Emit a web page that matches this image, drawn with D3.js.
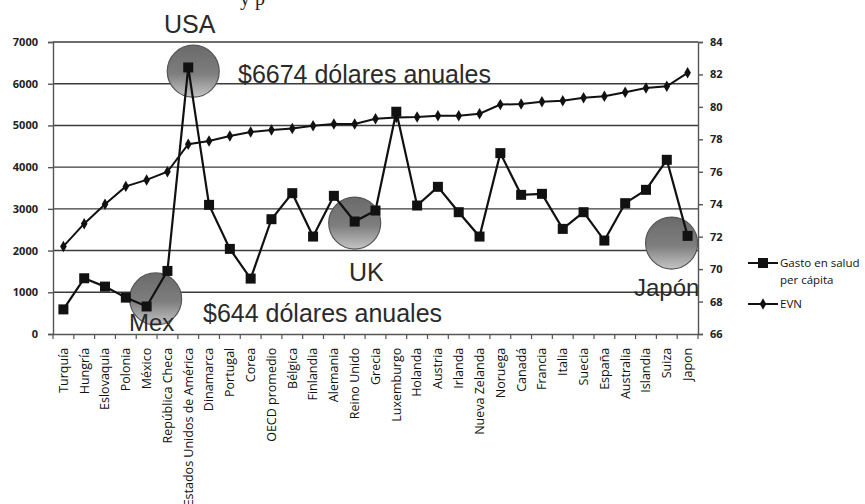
<!DOCTYPE html>
<html>
<head>
<meta charset="utf-8">
<script src="https://cdn.jsdelivr.net/npm/d3@7"></script>
<style>
  body { margin: 0; background: #fff; }
  svg { display: block; }
</style>
</head>
<body>
<div id="chart"></div>
<script>
var paises = ["Turquía","Hungría","Eslovaquia","Polonia","México","República Checa",
  "Estados Unidos de América","Dinamarca","Portugal","Corea","OECD promedio","Bélgica",
  "Finlandia","Alemania","Reino Unido","Grecia","Luxemburgo","Holanda","Austria","Irlanda",
  "Nueva Zelanda","Noruega","Canadá","Francia","Italia","Suecia","España","Australia",
  "Islandia","Suiza","Japon"];

// gasto en salud per cápita (USD), eje izquierdo
var gasto = [590,1336,1136,872,660,1512,6390,3096,2040,1328,2752,3376,2336,3312,2696,2960,
  5328,3080,3528,2920,2336,4336,3336,3360,2520,2920,2240,3136,3456,4176,2352];

// esperanza de vida al nacer, eje derecho
var evn = [71.4,72.8,74.0,75.1,75.5,76.0,77.7,77.9,78.2,78.45,78.57,78.67,78.84,78.94,78.95,
  79.27,79.35,79.37,79.46,79.46,79.58,80.14,80.18,80.32,80.38,80.57,80.65,80.9,81.16,81.27,82.1];

var ticksIzq = [0,1000,2000,3000,4000,5000,6000,7000];
var ticksDer = [66,68,70,72,74,76,78,80,82,84];

var notas = [
  {txt: "USA", x: 164, y: 33, size: 25},
  {txt: "$6674 dólares anuales", x: 238, y: 83, size: 25},
  {txt: "UK", x: 349, y: 281, size: 25},
  {txt: "$644 dólares anuales", x: 203, y: 322, size: 25},
  {txt: "Mex", x: 129, y: 331, size: 24},
  {txt: "Japón", x: 634, y: 296, size: 24}
];

// circulos: pais, valor del eje izquierdo del centro, desplazamiento en x
var bolas = [
  {p: "Estados Unidos de América", v: 6300, dx: 5},
  {p: "México", v: 840, dx: 9},
  {p: "Reino Unido", v: 2660, dx: 0},
  {p: "Japon", v: 2180, dx: -16}
];

var W = 865, H = 504,
    x0 = 53, x1 = 698, yTop = 42, yBot = 334;

var svg = d3.select("#chart").append("svg")
  .attr("width", W).attr("height", H)
  .style("font-family", "'Liberation Sans', Arial, sans-serif");

var xScale = d3.scaleBand().domain(paises).range([x0, x1]).padding(0),
    yL = d3.scaleLinear().domain([0, 7000]).range([yBot, yTop]),
    yR = d3.scaleLinear().domain([66, 84]).range([yBot, yTop]);

function cx(d) { return xScale(d) + xScale.bandwidth() / 2; }

// texto cortado arriba
svg.append("text").attr("x", 240).attr("y", 5)
  .style("font-family", "'Liberation Serif', serif").style("font-size", "20px")
  .attr("fill", "#222").text("y p");

// gradiente de los círculos
var defs = svg.append("defs");
var grad = defs.append("linearGradient").attr("id", "bola")
  .attr("x1", 0).attr("y1", 0).attr("x2", 0).attr("y2", 1);
grad.append("stop").attr("offset", "0%").attr("stop-color", "#6a6a6a");
grad.append("stop").attr("offset", "55%").attr("stop-color", "#7e7e7e");
grad.append("stop").attr("offset", "100%").attr("stop-color", "#c4c4c4");

// lineas de division
svg.append("g").selectAll("line")
  .data(ticksIzq.slice(1))
  .enter().append("line")
  .attr("x1", x0).attr("x2", x1)
  .attr("y1", function(d) { return yL(d); })
  .attr("y2", function(d) { return yL(d); })
  .attr("stroke", "#3c3c3c").attr("stroke-width", 1.4);

// circulos
svg.append("g").selectAll("circle")
  .data(bolas).enter().append("circle")
  .attr("cx", function(d) { return cx(d.p) + d.dx; })
  .attr("cy", function(d) { return yL(d.v); })
  .attr("r", 26)
  .attr("fill", "url(#bola)")
  .attr("stroke", "#555").attr("stroke-width", 1.2);

// ejes
var axL = svg.append("g").attr("transform", "translate(" + x0 + ",0)")
  .call(d3.axisLeft(yL).tickValues(ticksIzq).tickSize(5).tickPadding(10).tickFormat(d3.format("d")));
var axR = svg.append("g").attr("transform", "translate(" + x1 + ",0)")
  .call(d3.axisRight(yR).tickValues(ticksDer).tickSize(5).tickPadding(7));
var axB = svg.append("g").attr("transform", "translate(0," + yBot + ")")
  .call(d3.axisBottom(xScale).tickSize(0).tickPadding(5));

[axL, axR].forEach(function(a) {
  a.select(".domain").attr("stroke", "#555").attr("stroke-width", 1.4);
  a.selectAll(".tick line").attr("stroke", "#555").attr("stroke-width", 1.4);
  a.selectAll("text").style("font-size", "11px").style("font-weight", "bold")
    .style("font-family", "'Open Sans', sans-serif").attr("fill", "#222");
});
axB.select(".domain").attr("stroke", "#555").attr("stroke-width", 1.4);
axB.selectAll("text")
  .style("font-size", "12.5px").style("font-family", "'Open Sans', sans-serif")
  .attr("fill", "#111")
  .style("text-anchor", "end")
  .attr("transform", "rotate(-90)")
  .attr("dx", "-1.1em").attr("dy", "0.35em")
  .attr("y", 0);

// marcas de division del eje x
axB.append("g").selectAll("line")
  .data(paises.concat(["fin"]))
  .enter().append("line")
  .attr("x1", function(d, i) { return x0 + i * xScale.bandwidth(); })
  .attr("x2", function(d, i) { return x0 + i * xScale.bandwidth(); })
  .attr("y1", 0).attr("y2", 5)
  .attr("stroke", "#555").attr("stroke-width", 1.2);

// serie EVN
var lineaR = d3.line().x(function(d, i) { return cx(paises[i]); }).y(function(d) { return yR(d); });
svg.append("path").datum(evn).attr("d", lineaR)
  .attr("fill", "none").attr("stroke", "#111").attr("stroke-width", 2);
svg.append("g").selectAll("path")
  .data(evn).enter().append("path")
  .attr("d", d3.symbol().type(d3.symbolDiamond).size(38))
  .attr("transform", function(d, i) { return "translate(" + cx(paises[i]) + "," + yR(d) + ")"; })
  .attr("fill", "#111");

// serie gasto
var lineaL = d3.line().x(function(d, i) { return cx(paises[i]); }).y(function(d) { return yL(d); });
svg.append("path").datum(gasto).attr("d", lineaL)
  .attr("fill", "none").attr("stroke", "#111").attr("stroke-width", 2.2);
svg.append("g").selectAll("rect")
  .data(gasto).enter().append("rect")
  .attr("x", function(d, i) { return cx(paises[i]) - 5; })
  .attr("y", function(d) { return yL(d) - 5; })
  .attr("width", 10).attr("height", 10)
  .attr("fill", "#111");

// anotaciones
svg.append("g").selectAll("text")
  .data(notas).enter().append("text")
  .attr("x", function(d) { return d.x; })
  .attr("y", function(d) { return d.y; })
  .style("font-size", function(d) { return d.size + "px"; })
  .attr("fill", "#2a2a2a")
  .text(function(d) { return d.txt; });

// leyenda
var leg = svg.append("g").attr("transform", "translate(748,0)")
  .style("font-family", "'Open Sans', sans-serif").style("font-size", "11.5px");
leg.append("line").attr("x1", 0).attr("x2", 30).attr("y1", 263).attr("y2", 263)
  .attr("stroke", "#111").attr("stroke-width", 2);
leg.append("rect").attr("x", 10).attr("y", 258).attr("width", 10).attr("height", 10).attr("fill", "#111");
leg.append("text").attr("x", 32).attr("y", 267).attr("fill", "#111").text("Gasto en salud");
leg.append("text").attr("x", 32).attr("y", 284).attr("fill", "#111").text("per cápita");
leg.append("line").attr("x1", 0).attr("x2", 30).attr("y1", 304).attr("y2", 304)
  .attr("stroke", "#111").attr("stroke-width", 2);
leg.append("path").attr("d", d3.symbol().type(d3.symbolDiamond).size(38))
  .attr("transform", "translate(15,304)").attr("fill", "#111");
leg.append("text").attr("x", 32).attr("y", 308).attr("fill", "#111").text("EVN");
</script>
</body>
</html>
